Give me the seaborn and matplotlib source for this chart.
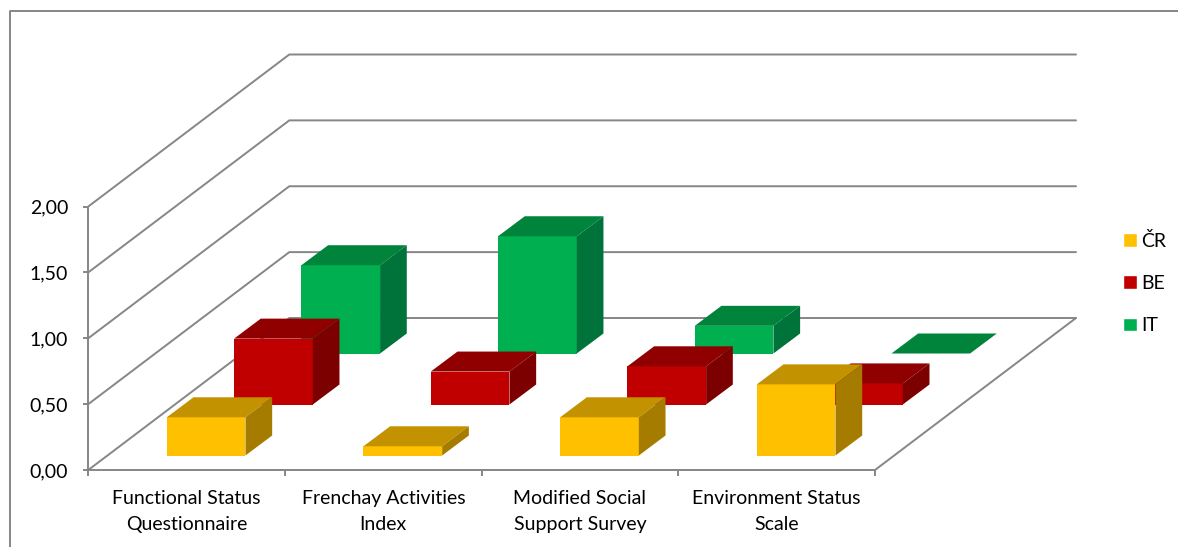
import pandas as pd
import matplotlib.pyplot as plt
import seaborn as sns
from matplotlib.lines import Line2D
from matplotlib.patches import Patch, Polygon

measures = ["Functional Status\nQuestionnaire", "Frenchay Activities\nIndex",
            "Modified Social\nSupport Survey", "Environment Status\nScale"]
series = ["ČR", "BE", "IT"]
cr_values = [0.29, 0.07, 0.29, 0.54]
be_values = [0.50, 0.25, 0.29, 0.16]
it_values = [0.67, 0.89, 0.21, 0.00]
y_ticks = [0.0, 0.5, 1.0, 1.5, 2.0]
y_tick_labels = ["0,00", "0,50", "1,00", "1,50", "2,00"]

front = {"ČR": "#FFC000", "BE": "#C00000", "IT": "#00B050"}
top = {"ČR": "#C29200", "BE": "#900000", "IT": "#00843C"}
side = {"ČR": "#A67C00", "BE": "#7D0000", "IT": "#00733A"}
grey = "#868686"

W, H = 1178, 547
sns.set_style("white")
plt.rcParams["font.family"] = ["Lato", "DejaVu Sans"]
plt.rcParams["text.color"] = "black"

df = pd.DataFrame({
    "measure": measures * 3,
    "value": cr_values + be_values + it_values,
    "series": [s for s in series for _ in measures],
})

fig = plt.figure(figsize=(W / 100, H / 100), dpi=100)
# front plane of the fake 3d box, in pixels
ax = fig.add_axes([88.3 / W, 1 - 470 / H, 786.7 / W, 263.5 / H])
sns.barplot(data=df, x="measure", y="value", hue="series", hue_order=series[::-1],
            dodge=False, width=0.4, palette=front, legend=False, saturation=1,
            errorbar=None, ax=ax, zorder=5, linewidth=0)

ax.set_xlim(-0.5, 3.5)
ax.set_ylim(0, 2)
px_x = 786.7 / 4
px_y = 263.5 / 2

# projection offsets in data units
back_dx, back_dy = 201 / px_x, 152 / px_y
depth_dx, depth_dy = 26.7 / px_x, 20 / px_y
step_dx, step_dy = 67.3 / px_x, 51 / px_y
first_dx, first_dy = 19.5 / px_x, 14.5 / px_y

# walls and floor
for t in y_ticks:
    ax.plot([-0.5, -0.5 + back_dx, 3.5 + back_dx], [t, t + back_dy, t + back_dy],
            color=grey, lw=1.4, clip_on=False, zorder=1)
ax.plot([3.5, 3.5 + back_dx], [0, back_dy], color=grey, lw=1.4, clip_on=False, zorder=1)

# move the bars back row by row and add their top and side
for container, name in zip(ax.containers, series[::-1]):
    row = series.index(name)
    ox = first_dx + row * step_dx
    oy = first_dy + row * step_dy
    z = 10 - row
    for bar in container:
        bar.set_x(bar.get_x() + ox)
        bar.set_y(oy)
        bar.set_zorder(z)
        bar.set_clip_on(False)
        x0, x1 = bar.get_x(), bar.get_x() + bar.get_width()
        y0, y1 = oy, oy + bar.get_height()
        ax.add_patch(Polygon([(x0, y1), (x1, y1), (x1 + depth_dx, y1 + depth_dy), (x0 + depth_dx, y1 + depth_dy)],
                             facecolor=top[name], edgecolor="none", clip_on=False, zorder=z))
        if y1 > y0:
            ax.add_patch(Polygon([(x1, y0), (x1 + depth_dx, y0 + depth_dy), (x1 + depth_dx, y1 + depth_dy), (x1, y1)],
                                 facecolor=side[name], edgecolor="none", clip_on=False, zorder=z))

sns.despine(ax=ax)
for s in ["left", "bottom"]:
    ax.spines[s].set_color(grey)
    ax.spines[s].set_linewidth(1.4)
    ax.spines[s].set_zorder(2)

ax.set_xlabel("")
ax.set_ylabel("")
ax.set_yticks(y_ticks, y_tick_labels)
ax.set_xticks(range(4), measures)
ax.set_xticks([-0.5, 0.5, 1.5, 2.5, 3.5], minor=True)
ax.tick_params(axis="y", left=True, length=3.5, width=1.4, color=grey, labelsize=14, pad=11,
               labelcolor="black")
ax.tick_params(axis="x", which="major", bottom=False, labelsize=14, pad=11, labelcolor="black")
ax.tick_params(axis="x", which="minor", bottom=True, length=4, width=1.4, color=grey)
for label in ax.get_xticklabels():
    label.set_linespacing(1.62)

handles = [Patch(facecolor=front[s], label=s) for s in series]
fig.legend(handles=handles, loc="upper left", bbox_to_anchor=(1117.5 / W, 1 - 226 / H),
           frameon=False, fontsize=14, handlelength=0.7, handleheight=0.7,
           handletextpad=0.2, labelspacing=1.3, borderpad=0.3, borderaxespad=0)

# chart border, cut off by the image on the right and bottom
fig.add_artist(Line2D([9.5 / W, 9.5 / W, 1], [0, 1 - 10.5 / H, 1 - 10.5 / H],
                      color=grey, lw=1.4, transform=fig.transFigure))

fig.savefig("out.png", dpi=100)
